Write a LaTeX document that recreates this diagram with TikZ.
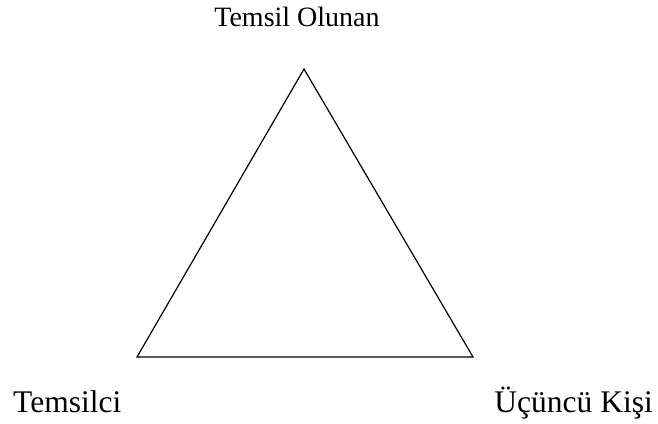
\documentclass[tikz,border=0pt]{standalone}
\usepackage{fontspec}
\setmainfont{Liberation Serif}
\begin{document}
\begin{tikzpicture}[x=1pt,y=-1pt,
  toplbl/.style={inner sep=0pt,font=\fontsize{28}{33}\selectfont},
  lbl/.style={inner sep=0pt,font=\fontsize{31.5}{37}\selectfont}]
\useasboundingbox (0,0) rectangle (658,423);
\coordinate (top) at (304,69);
\coordinate (bl) at (137,357);
\coordinate (br) at (473,357);
\draw[line width=1.2pt,line join=miter] (top) -- (bl) -- (br) -- cycle;
\node[toplbl,anchor=base] (t) at (297,26) {Temsil Olunan};
\node[lbl,anchor=base west] (l) at (13,412) {Temsilci};
\node[lbl,anchor=base east] (r) at (653,412) {Üçüncü Kişi};
\end{tikzpicture}
\end{document}
